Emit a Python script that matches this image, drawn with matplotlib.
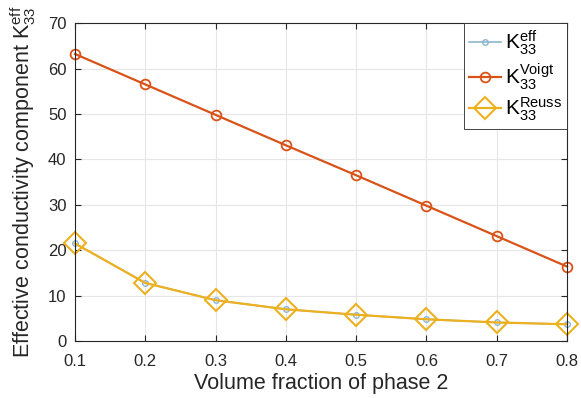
import matplotlib.pyplot as plt

# volume fraction of phase 2
vf = [0.1, 0.2, 0.3, 0.4, 0.5, 0.6, 0.7, 0.8]
k_eff = [21.5, 12.8, 9.0, 7.0, 5.8, 4.8, 4.1, 3.7]
k_voigt = [63.2, 56.5, 49.8, 43.1, 36.5, 29.8, 23.1, 16.4]
k_reuss = [21.5, 12.8, 9.0, 7.0, 5.8, 4.8, 4.1, 3.7]
xtick_labels = ['0.1', '0.2', '0.3', '0.4', '0.5', '0.6', '0.7', '0.8']

plt.rcParams['font.family'] = ['Liberation Sans', 'DejaVu Sans']
plt.rcParams['mathtext.fontset'] = 'custom'
plt.rcParams['mathtext.rm'] = 'Liberation Sans'
plt.rcParams['mathtext.it'] = 'Liberation Sans'

fig = plt.figure(figsize=(5.81, 3.98), dpi=100)
ax = fig.add_axes([0.129, 0.143, 0.847, 0.799])

ax.plot(vf, k_eff, color='#8db6d0', marker='o', markersize=4, markerfacecolor='none',
        linewidth=1.2, clip_on=False, label=r'$\mathrm{K}^{\mathrm{eff}}_{33}$')
ax.plot(vf, k_voigt, color='#d95319', marker='o', markersize=7, markerfacecolor='none',
        markeredgewidth=1.3, linewidth=1.6, clip_on=False,
        label=r'$\mathrm{K}^{\mathrm{Voigt}}_{33}$')
ax.plot(vf, k_reuss, color='#edb120', marker='D', markersize=11, markerfacecolor='none',
        markeredgewidth=1.5, linewidth=1.6, clip_on=False,
        label=r'$\mathrm{K}^{\mathrm{Reuss}}_{33}$')

ax.set_xlim(0.1, 0.8)
ax.set_ylim(0, 70)
ax.set_xticks(vf)
ax.set_xticklabels(xtick_labels)
ax.set_yticks(range(0, 71, 10))
ax.tick_params(direction='in', labelsize=12, colors='#262626', length=4,
               top=True, right=True)
ax.tick_params(axis='x', pad=9)
ax.tick_params(axis='y', pad=6)
ax.grid(True, color='#e6e6e6', linewidth=0.8)
for s in ax.spines.values():
    s.set_color('#262626')
    s.set_linewidth(0.8)

ax.set_xlabel('Volume fraction of phase 2', fontsize=15.5, color='#262626', labelpad=3)
ax.set_ylabel(r'Effective conductivity component $\mathrm{K}^{\mathrm{eff}}_{33}$',
              fontsize=15.5, color='#262626', labelpad=7)

leg = ax.legend(loc='upper right', fontsize=15, fancybox=False, framealpha=1,
                edgecolor='#262626', borderaxespad=0.0, handlelength=1.5,
                handletextpad=0.2, labelspacing=0.2, borderpad=0.25)
leg.get_frame().set_linewidth(0.6)

fig.savefig('out.png', dpi=100)
